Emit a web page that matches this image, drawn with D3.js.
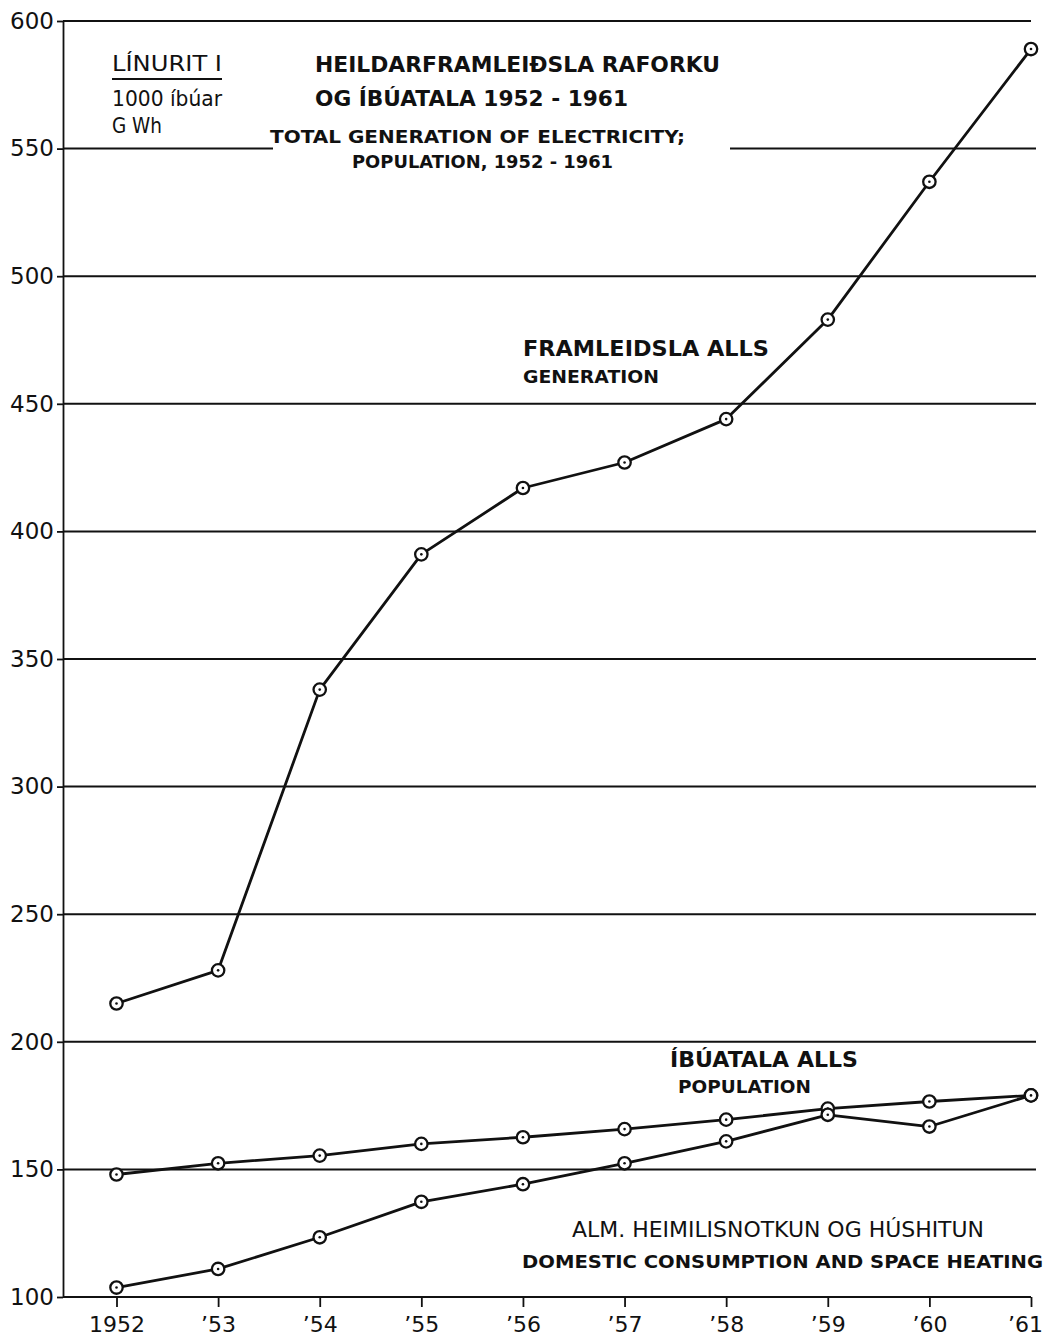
<!DOCTYPE html>
<html>
<head>
<meta charset="utf-8">
<script src="https://cdn.jsdelivr.net/npm/d3@7"></script>
<style>
body { margin: 0; background: #fff; }
text { font-family: "DejaVu Sans", sans-serif; fill: #111; }
</style>
</head>
<body>
<div id="chart"></div>
<script>
var years = [1952, 1953, 1954, 1955, 1956, 1957, 1958, 1959, 1960, 1961];
var yearLabels = ["1952", "\u201953", "\u201954", "\u201955", "\u201956", "\u201957", "\u201958", "\u201959", "\u201960", "\u201961"];
var generation = [215, 228, 338, 391, 417, 427, 444, 483, 537, 589];
var population = [148, 152.4, 155.4, 160, 162.6, 165.8, 169.5, 173.8, 176.6, 179];
var domestic = [103.7, 111, 123.4, 137.3, 144.2, 152.4, 161, 171.4, 166.8, 179];
var yTicks = [100, 150, 200, 250, 300, 350, 400, 450, 500, 550, 600];

var width = 1047, height = 1336;
var axisX = 63, gridEnd = 1036;

var x = d3.scaleLinear().domain([1952, 1961]).range([116.5, 1031]);
var y = d3.scaleLinear().domain([100, 600]).range([1297, 21]);

var svg = d3.select("#chart").append("svg")
    .attr("width", width)
    .attr("height", height);

// gridlines (550 line is broken where the title sits)
yTicks.forEach(function(t) {
  var segs = [[axisX, (t == 600 || t == 100) ? 1031 : gridEnd]];
  if (t == 550) segs = [[axisX, 273], [730, gridEnd]];
  segs.forEach(function(s) {
    svg.append("line")
      .attr("x1", s[0]).attr("x2", s[1])
      .attr("y1", y(t)).attr("y2", y(t))
      .attr("stroke", "#111").attr("stroke-width", 2);
  });
});

// y axis
var yAxis = svg.append("g")
    .attr("transform", "translate(" + axisX + ",0)")
    .call(d3.axisLeft(y).tickValues(yTicks).tickSize(6).tickSizeOuter(0).tickPadding(3));
yAxis.select(".domain").attr("stroke", "#111").attr("stroke-width", 1.8);
yAxis.selectAll(".tick line").attr("stroke", "#111").attr("stroke-width", 1.8);
yAxis.selectAll(".tick text")
    .style("font-family", "DejaVu Sans, sans-serif")
    .style("font-size", "23px")
    .attr("fill", "#111");

// x axis
var xAxis = svg.append("g")
    .attr("transform", "translate(0," + y(100) + ")")
    .call(d3.axisBottom(x).tickValues(years)
      .tickFormat(function(d, i) { return yearLabels[i]; })
      .tickSize(10).tickSizeOuter(0).tickPadding(9));
xAxis.select(".domain").remove();
xAxis.selectAll(".tick line").attr("stroke", "#111").attr("stroke-width", 1.8);
xAxis.selectAll(".tick text")
    .style("font-family", "DejaVu Sans, sans-serif")
    .style("font-size", "22px")
    .attr("fill", "#111")
    .attr("dx", function(d) { return d == 1961 ? -6 : 0; });

// series
var line = d3.line()
    .x(function(d, i) { return x(years[i]); })
    .y(function(d) { return y(d); });

[generation, population, domestic].forEach(function(series) {
  svg.append("path")
    .datum(series)
    .attr("d", line)
    .attr("fill", "none")
    .attr("stroke", "#111")
    .attr("stroke-width", 2.8)
    .attr("stroke-linejoin", "round");
});

[generation, population, domestic].forEach(function(series) {
  var g = svg.append("g");
  g.selectAll("circle.m")
    .data(series)
    .enter().append("circle")
      .attr("class", "m")
      .attr("cx", function(d, i) { return x(years[i]); })
      .attr("cy", function(d) { return y(d); })
      .attr("r", 6.2)
      .attr("fill", "#fff")
      .attr("stroke", "#111")
      .attr("stroke-width", 2.3);
  g.selectAll("circle.c")
    .data(series)
    .enter().append("circle")
      .attr("class", "c")
      .attr("cx", function(d, i) { return x(years[i]); })
      .attr("cy", function(d) { return y(d); })
      .attr("r", 1.3)
      .attr("fill", "#111");
});

// text labels
function label(txt, x0, x1, yb, size, weight) {
  svg.append("text")
    .attr("x", x0).attr("y", yb)
    .attr("textLength", x1 - x0)
    .attr("lengthAdjust", "spacingAndGlyphs")
    .style("font-size", size + "px")
    .style("font-weight", weight || "normal")
    .text(txt);
}

label("LÍNURIT I", 112, 222, 71, 22, "normal");
svg.append("line").attr("x1", 112).attr("x2", 222).attr("y1", 79).attr("y2", 79)
  .attr("stroke", "#111").attr("stroke-width", 1.8);
label("1000 íbúar", 112, 222, 106, 21, "normal");
label("G Wh", 112, 162, 133, 21, "normal");

label("HEILDARFRAMLEIÐSLA RAFORKU", 315, 720, 72, 22, "bold");
label("OG ÍBÚATALA 1952 - 1961", 315, 628, 106, 22, "bold");
label("TOTAL GENERATION OF ELECTRICITY;", 270, 685, 143, 18, "bold");
label("POPULATION, 1952 - 1961", 352, 613, 168, 18, "bold");

label("FRAMLEIDSLA ALLS", 523, 769, 356, 21, "bold");
label("GENERATION", 523, 659, 383, 18, "bold");

label("ÍBÚATALA ALLS", 670, 858, 1067, 21, "bold");
label("POPULATION", 678, 811, 1093, 18, "bold");

label("ALM. HEIMILISNOTKUN OG HÚSHITUN", 572, 984, 1237, 21, "normal");
label("DOMESTIC CONSUMPTION AND SPACE HEATING", 522, 1043, 1268, 18, "bold");
</script>
</body>
</html>
